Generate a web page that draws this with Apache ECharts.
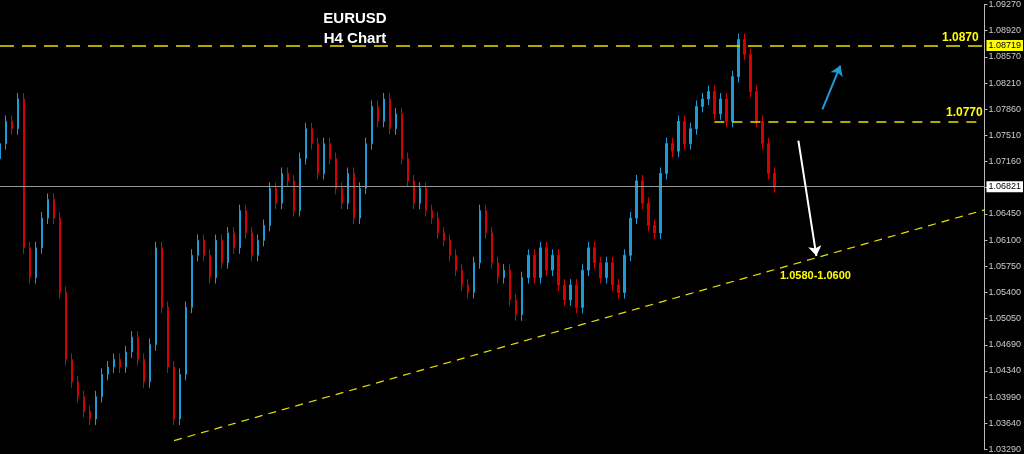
<!DOCTYPE html>
<html>
<head>
<meta charset="utf-8">
<script src="https://cdn.jsdelivr.net/npm/echarts@6/dist/echarts.min.js"></script>
<style>html,body{margin:0;background:#000}#main{width:1024px;height:454px}</style>
</head>
<body>
<div id="main"></div>
<script>
// H4 closes (oldest first)
var closes = [
    1.0740, 1.0770, 1.0760, 1.0800, 1.0600, 1.0560, 1.0600, 1.0640, 1.0665, 1.0640,
    1.0540, 1.0450, 1.0420, 1.0400, 1.0380, 1.0370, 1.0400, 1.0430, 1.0440, 1.0450,
    1.0440, 1.0460, 1.0480, 1.0450, 1.0420, 1.0470, 1.0600, 1.0520, 1.0440, 1.0370,
    1.0430, 1.0520, 1.0590, 1.0610, 1.0590, 1.0560, 1.0610, 1.0580, 1.0620, 1.0600,
    1.0650, 1.0620, 1.0590, 1.0610, 1.0630, 1.0680, 1.0660, 1.0700, 1.0690, 1.0650,
    1.0720, 1.0760, 1.0740, 1.0700, 1.0740, 1.0720, 1.0680, 1.0660, 1.0700, 1.0640,
    1.0680, 1.0740, 1.0790, 1.0770, 1.0800, 1.0760, 1.0780, 1.0720, 1.0690, 1.0660,
    1.0680, 1.0650, 1.0640, 1.0620, 1.0610, 1.0590, 1.0570, 1.0550, 1.0540, 1.0580,
    1.0650, 1.0620, 1.0580, 1.0560, 1.0570, 1.0530, 1.0510, 1.0560, 1.0590, 1.0560,
    1.0600, 1.0570, 1.0590, 1.0550, 1.0530, 1.0550, 1.0520, 1.0570, 1.0600, 1.0580,
    1.0560, 1.0580, 1.0550, 1.0540, 1.0590, 1.0640, 1.0690, 1.0660, 1.0630, 1.0620,
    1.0700, 1.0740, 1.0730, 1.0770, 1.0740, 1.0760, 1.0790, 1.0800, 1.0810, 1.0780,
    1.0800, 1.0770, 1.0830, 1.0880, 1.0860, 1.0810, 1.0770, 1.0740, 1.0700, 1.0682
];
var emptySlots = 35;
var tickLabels = ['1.03290', '1.03640', '1.03990', '1.04340', '1.04690', '1.05050', '1.05400',
    '1.05750', '1.06100', '1.06450', '', '1.07160', '1.07510', '1.07860', '1.08210',
    '1.08570', '1.08920', '1.09270'];
var levels = { resistHigh: 1.08719, resistLow: 1.0770, last: 1.06821 };
var trend = [[29, 1.0341], [164, 1.0651]];

var cats = [], ohlc = [];
for (var i = 0; i < closes.length + emptySlots; i++) {
    cats.push(i);
    if (i < closes.length) {
        var o = i ? closes[i - 1] : closes[0] - 0.002;
        var c = closes[i];
        ohlc.push([o, c, Math.min(o, c) - 0.0008, Math.max(o, c) + 0.0008]);
    } else ohlc.push('-');
}
var lastIdx = cats.length - 1;

var chart = echarts.init(document.getElementById('main'));
var yellow = '#ffff00';

function seg(x0, y0, x1, y1, style, label, arrow) {
    return [
        { coord: [x0, y0], lineStyle: style, label: label || { show: false }, symbol: 'none' },
        { coord: [x1, y1], lineStyle: style, symbol: arrow ? 'arrow' : 'none', symbolSize: 10 }
    ];
}

var option = {
    backgroundColor: '#000',
    animation: false,
    title: {
        text: 'EURUSD\nH4 Chart', left: 350, top: 4, textAlign: 'center',
        textStyle: { color: '#fff', fontSize: 15, fontWeight: 'bold', lineHeight: 20, fontFamily: 'Arial' }
    },
    grid: { left: 0, right: 36, top: 4, bottom: 3 },
    xAxis: {
        type: 'category', data: cats, boundaryGap: false,
        axisLine: { show: false }, axisTick: { show: false }, axisLabel: { show: false }
    },
    yAxis: {
        position: 'right', min: 1.0329, max: 1.0927, interval: 0.0598 / 17,
        splitLine: { show: false },
        axisLine: { show: true, lineStyle: { color: '#bbb' } },
        axisTick: { show: true, length: 3, lineStyle: { color: '#bbb' } },
        axisLabel: {
            color: '#ccc', fontSize: 9, margin: 4, fontFamily: 'Arial',
            formatter: function (v, idx) { return tickLabels[idx] || ''; }
        }
    },
    series: [{
        type: 'candlestick', data: ohlc, barWidth: 2,
        itemStyle: { color: '#1e9bd7', color0: '#d60000', borderColor: '#1e9bd7', borderColor0: '#d60000', borderWidth: 1 },
        markLine: {
            silent: true,
            lineStyle: { color: yellow, opacity: 1 },
            data: [
                seg(0, levels.resistHigh, lastIdx, levels.resistHigh, { color: '#e8e000', type: [14, 8], width: 1.5, opacity: 1 },
                    { show: true, position: 'end', formatter: '1.08719', color: '#000', backgroundColor: yellow, fontSize: 9, padding: [1, 2], distance: 2 }),
                seg(0, levels.last, lastIdx, levels.last, { color: '#999', type: 'solid', width: 1, opacity: 1 },
                    { show: true, position: 'end', formatter: '1.06821', color: '#000', backgroundColor: '#fff', fontSize: 9, padding: [1, 2], distance: 2 }),
                seg(119, levels.resistLow, lastIdx, levels.resistLow, { color: '#e8e000', type: [10, 8], width: 1.5, opacity: 1 }),
                seg(trend[0][0], trend[0][1], trend[1][0], trend[1][1], { color: '#e8e000', type: [8, 6], width: 1.2, opacity: 1 }),
                seg(133, 1.0744, 136, 1.0589, { color: '#fff', type: 'solid', width: 2, opacity: 1 }, null, true),
                seg(137, 1.0786, 140, 1.0845, { color: '#1e9bd7', type: 'solid', width: 2, opacity: 1 }, null, true)
            ]
        }
    }],
    graphic: [
        { type: 'text', left: 942, top: 32, style: { text: '1.0870', fill: yellow, font: 'bold 12px Arial' } },
        { type: 'text', left: 946, top: 107, style: { text: '1.0770', fill: yellow, font: 'bold 12px Arial' } },
        { type: 'text', left: 780, top: 270, style: { text: '1.0580-1.0600', fill: yellow, font: 'bold 11px Arial' } }
    ]
};
chart.setOption(option);
</script>
</body>
</html>
